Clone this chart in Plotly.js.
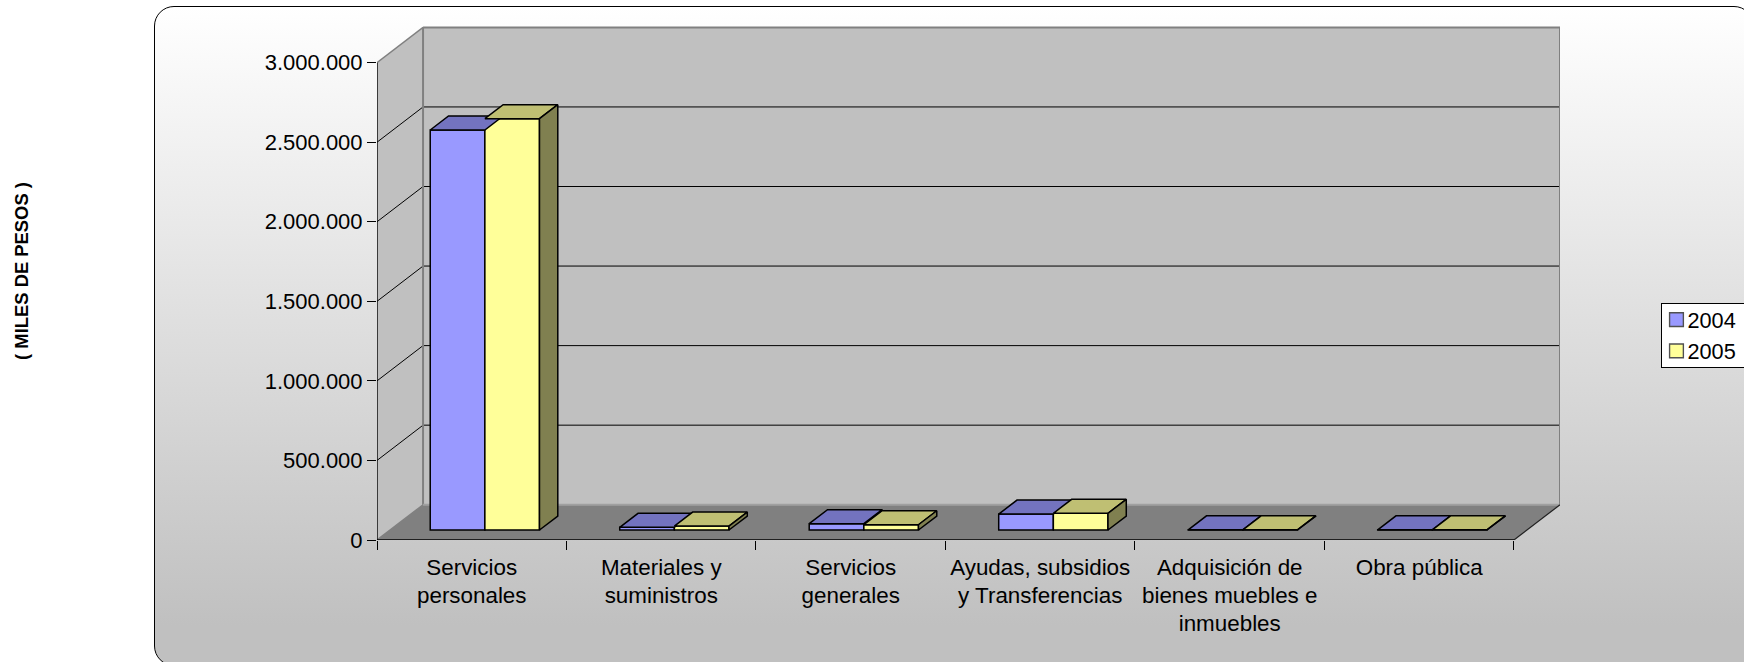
<!DOCTYPE html>
<html>
<head>
<meta charset="utf-8">
<script src="https://cdn.plot.ly/plotly-3.0.1.min.js"></script>
<style>
html,body{margin:0;padding:0;background:#fff;overflow:hidden;width:1744px;height:662px}
#panel{position:absolute;left:154px;top:5.5px;width:1600px;height:660px;box-sizing:border-box;border:1.4px solid #000;border-radius:20px;
background:linear-gradient(to bottom,#ffffff 0%,#c0c0c0 94%)}
#chart{position:absolute;left:0;top:0;width:1744px;height:662px}
</style>
</head>
<body>
<div id="panel"></div>
<div id="chart"></div>
<script>
const categories = ["Servicios<br>personales","Materiales y<br>suministros","Servicios<br>generales","Ayudas, subsidios<br>y Transferencias","Adquisición de<br>bienes muebles e<br>inmuebles","Obra pública"];
const values2004 = [2514000,17000,40000,100000,1000,1000];
const values2005 = [2585000,25000,33000,105000,1000,1000];
const seriesNames = ["2004","2005"];
const valueTicks = [0,500000,1000000,1500000,2000000,2500000,3000000];

const wallDX=0.243, wallDY=221700;      // depth of the floor, in axis units
const offDX=0.0692, offDY=62800;        // bars sit this far back from the front edge
const barDX=0.0966, barDY=87900;        // depth of one bar
const barW=0.2883;
const xMax=6+wallDX, yTop=3000000;

function poly(pts){return 'M'+pts.map(p=>p[0]+','+p[1]).join('L')+'Z';}
function line(x0,y0,x1,y1,color,w){return {type:'line',xref:'x',yref:'y',x0,y0,x1,y1,layer:'below',line:{color,width:w}};}
function area(pts,fill){return {type:'path',xref:'x',yref:'y',path:poly(pts),fillcolor:fill,layer:'below',line:{width:0}};}

const shapes=[
  area([[wallDX,wallDY],[xMax,wallDY],[xMax,yTop+wallDY],[wallDX,yTop+wallDY]],'#c0c0c0'),
  area([[0,0],[wallDX,wallDY],[wallDX,yTop+wallDY],[0,yTop]],'#c0c0c0'),
  area([[0,0],[6,0],[xMax,wallDY],[wallDX,wallDY]],'#808080')
];
valueTicks.forEach(v=>{
  if(v>0 && v<yTop){
    shapes.push(line(0,v,wallDX,v+wallDY,'#000',1));
    shapes.push(line(wallDX,v+wallDY,xMax,v+wallDY,'#000',1));
  }
});
shapes.push(line(wallDX,yTop+wallDY,xMax,yTop+wallDY,'#808080',2));
shapes.push(line(wallDX,wallDY,wallDX,yTop+wallDY,'#808080',2));
shapes.push(line(xMax,wallDY,xMax,yTop+wallDY,'#808080',2));
shapes.push(line(0,yTop,wallDX,yTop+wallDY,'#808080',1.4));
shapes.push(line(0,0,wallDX,wallDY,'#808080',1.4));
shapes.push(line(wallDX,wallDY,xMax,wallDY,'#a0a0a0',2));
shapes.push(line(6,0,xMax,wallDY,'#202020',1.2));
shapes.push(line(0,0,0,yTop,'#000',1.4));
shapes.push(line(0,0,6,0,'#000',1.4));

const centers=categories.map((c,i)=>i+0.5+offDX);
const leftX=centers.map(c=>c-barW);
const midX=centers;
const rightX=centers.map(c=>c+barW);

function topFace(xs,vals){
  const xo=[],yo=[];
  vals.forEach((v,i)=>{const t=offDY+v;
    xo.push(xs[i],xs[i]+barW,xs[i]+barW+barDX,xs[i]+barDX,xs[i],null);
    yo.push(t,t,t+barDY,t+barDY,t,null);});
  return {x:xo,y:yo};
}
function sideFace(xs,lo,hi){
  const xo=[],yo=[];
  hi.forEach((v,i)=>{ if(v<=lo[i]) return;
    const a=offDY+lo[i], b=offDY+v;
    xo.push(xs[i],xs[i]+barDX,xs[i]+barDX,xs[i],xs[i],null);
    yo.push(a,a+barDY,b+barDY,b,a,null);});
  return {x:xo,y:yo};
}
function face(g,fill){
  return Object.assign({type:'scatter',mode:'lines',fill:'toself',fillcolor:fill,line:{color:'#000',width:1.5,simplify:false},
    hoverinfo:'skip',showlegend:false,xaxis:'x',yaxis:'y'},g);
}
const floorBase=categories.map(()=>offDY);
const traces=[
  {type:'bar',name:seriesNames[0],x:centers.map(c=>c-barW/2),y:values2004,base:floorBase,width:barW,
   marker:{color:'#9999ff',line:{color:'#000',width:1.5}},xaxis:'x',yaxis:'y'},
  {type:'bar',name:seriesNames[1],x:centers.map(c=>c+barW/2),y:values2005,base:floorBase,width:barW,
   marker:{color:'#ffff99',line:{color:'#000',width:1.5}},xaxis:'x',yaxis:'y'},
  face(sideFace(midX,values2005,values2004),'#7373bf'),
  face(topFace(leftX,values2004),'#7373bf'),
  face(topFace(midX,values2005),'#bfbf73'),
  face(sideFace(rightX,categories.map(()=>0),values2005),'#808050'),
  {type:'scatter',mode:'markers',x:categories.map((c,i)=>i+0.5),y:categories.map(()=>0),marker:{opacity:0,size:1},
   hoverinfo:'skip',showlegend:false,xaxis:'x2',yaxis:'y'}
];

const fontFam='"Liberation Sans", Arial, sans-serif';
const layout={
  width:1744,height:662,
  margin:{l:376.7,r:184,t:2,b:121.7,autoexpand:false},
  paper_bgcolor:'rgba(0,0,0,0)',plot_bgcolor:'rgba(0,0,0,0)',
  separators:',.',
  barmode:'overlay',
  font:{family:fontFam,size:22,color:'#000'},
  shapes,
  xaxis:{type:'linear',range:[0,xMax],tickmode:'array',tickvals:[0,1,2,3,4,5,6],ticktext:['','','','','','',''],
    ticks:'outside',ticklen:9,tickwidth:1.2,tickcolor:'#000',showgrid:false,zeroline:false,showline:false,fixedrange:true},
  xaxis2:{type:'linear',overlaying:'x',side:'bottom',range:[0,xMax],tickmode:'array',
    tickvals:categories.map((c,i)=>i+0.5),ticktext:categories,ticks:'',tickangle:0,
    ticklabelstandoff:12,showgrid:false,zeroline:false,showline:false,fixedrange:true,tickfont:{family:fontFam,size:22.4,color:'#000'}},
  yaxis:{type:'linear',range:[0,(540.3-2)/79.6*500000],tickmode:'array',tickvals:valueTicks,tickformat:',d',
    ticks:'outside',ticklen:9,tickwidth:1.2,tickcolor:'#000',showgrid:false,zeroline:false,showline:false,fixedrange:true,
    tickfont:{family:fontFam,size:22,color:'#000'},
    title:{text:'<b>( MILES DE PESOS )</b>',standoff:231,font:{family:fontFam,size:18.4,color:'#000'}}},
  legend:{x:(1661.3-376.7)/(1744-376.7-184),xanchor:'left',y:(662-121.7-303)/(540.3-2),yanchor:'top',
    bgcolor:'#fff',bordercolor:'#000',borderwidth:1.2,entrywidth:43,entrywidthmode:'pixels',
    font:{family:fontFam,size:21.7,color:'#000'},traceorder:'normal'}
};
Plotly.newPlot('chart',traces,layout,{displayModeBar:false,responsive:false}).then(gd=>{
  // tighten the legend to the reference's compact box
  gd.querySelectorAll('.legend .legendtext').forEach(t=>{t.setAttribute('x',25);});
  gd.querySelectorAll('.legend .legendsymbols path').forEach(p=>{
    p.setAttribute('transform','translate(14,0) scale(1.15)');
    p.style.stroke='#505050';
    p.style.strokeWidth='1.2px';
  });
  gd.querySelectorAll('.legend .traces').forEach(t=>{
    const m=/translate\(([^,]+),\s*([^)]+)\)/.exec(t.getAttribute('transform'));
    if(m) t.setAttribute('transform','translate('+m[1]+','+(parseFloat(m[2])-5)+')');
  });
  const bg=gd.querySelector('.legend .bg');
  if(bg) bg.setAttribute('height',64);
  // tick-label line spacing of the reference
  gd.querySelectorAll('.x2tick text').forEach(t=>{
    t.querySelectorAll('tspan.line').forEach((s,i)=>{s.setAttribute('dy',(i*1.24)+'em');});
  });
});
</script>
</body>
</html>
